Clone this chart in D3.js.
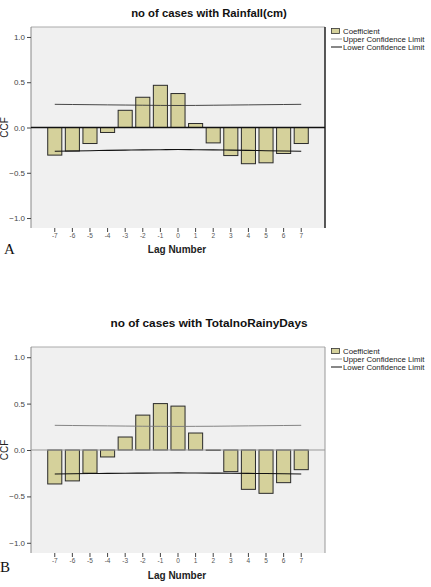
<!DOCTYPE html>
<html>
<head>
<meta charset="utf-8">
<script src="https://cdn.jsdelivr.net/npm/d3@7"></script>
<style>
  body { margin: 0; background: #fff; }
  svg { display: block; font-family: "Liberation Sans", Arial, sans-serif; }
</style>
</head>
<body>
<svg id="chart" width="431" height="587"></svg>
<script>
// lags shown on the x axis
var lags = [-7, -6, -5, -4, -3, -2, -1, 0, 1, 2, 3, 4, 5, 6, 7];
var yTicks = [1.0, 0.5, 0.0, -0.5, -1.0];
var legendLabels = ["Coefficient", "Upper Confidence Limit", "Lower Confidence Limit"];

// panel A : rainfall
var rainfallCcf   = [-0.305, -0.26, -0.177, -0.055, 0.19, 0.334, 0.466, 0.375, 0.044, -0.17, -0.31, -0.40, -0.39, -0.287, -0.177];
var rainfallUpper = [0.256, 0.254, 0.252, 0.250, 0.248, 0.246, 0.244, 0.243, 0.244, 0.246, 0.248, 0.250, 0.252, 0.254, 0.256];
var rainfallLower = [-0.262, -0.259, -0.256, -0.253, -0.250, -0.247, -0.245, -0.243, -0.245, -0.247, -0.250, -0.253, -0.256, -0.259, -0.262];

// panel B : total no. of rainy days
var rainyDaysCcf   = [-0.366, -0.333, -0.25, -0.075, 0.14, 0.376, 0.50, 0.473, 0.183, -0.004, -0.233, -0.424, -0.467, -0.352, -0.212];
var rainyDaysUpper = [0.266, 0.264, 0.262, 0.260, 0.258, 0.256, 0.255, 0.254, 0.255, 0.256, 0.258, 0.260, 0.262, 0.264, 0.266];
var rainyDaysLower = [-0.258, -0.256, -0.254, -0.252, -0.250, -0.249, -0.248, -0.247, -0.248, -0.249, -0.250, -0.252, -0.254, -0.256, -0.258];

var svg = d3.select("#chart");

/*
  one SPSS style ccf panel
*/
function drawPanel(opt) {
  var left = 31, right = 325, top = opt.top, bottom = opt.bottom;
  var g = svg.append("g");

  var x = d3.scaleBand().domain(lags).range([left, right])
      .paddingInner(0.2).paddingOuter(0.95);
  var y = d3.scaleLinear().domain([-1.11, 1.11]).range([bottom, top]);

  // title
  g.append("text")
    .attr("x", 209).attr("y", opt.titleY)
    .attr("text-anchor", "middle")
    .style("font-size", opt.titleSize).style("font-weight", "bold")
    .attr("fill", "#111")
    .text(opt.title);

  // plot background
  g.append("rect")
    .attr("x", left).attr("y", top)
    .attr("width", right - left).attr("height", bottom - top)
    .attr("fill", "#f0f0f0");

  // frame : top, left, right
  g.append("line").attr("x1", left).attr("x2", right).attr("y1", top).attr("y2", top)
    .attr("stroke", "#aaa").attr("stroke-width", 1);
  g.append("line").attr("x1", left).attr("x2", left).attr("y1", top).attr("y2", bottom)
    .attr("stroke", "#888").attr("stroke-width", 1);
  g.append("line").attr("x1", right).attr("x2", right).attr("y1", top).attr("y2", bottom)
    .attr("stroke", opt.dark ? "#222" : "#999").attr("stroke-width", opt.dark ? 1.5 : 1);

  // y axis
  var yAxis = d3.axisLeft(y).tickValues(yTicks).tickSize(4).tickPadding(2)
      .tickFormat(d3.format(".1f"));
  var ya = g.append("g").attr("transform", "translate(" + left + ",0)").call(yAxis);
  ya.select(".domain").remove();
  ya.selectAll("line").attr("stroke", "#444");
  ya.selectAll("text").style("font-size", "8px").attr("fill", "#444")
    .style("font-family", "'Liberation Sans', Arial, sans-serif");

  g.append("text")
    .attr("transform", "translate(8," + y(0) + ") rotate(-90)")
    .attr("text-anchor", "middle")
    .style("font-size", "10px").attr("fill", "#222")
    .text("CCF");

  // x axis
  var xAxis = d3.axisBottom(x).tickSize(4).tickPadding(1);
  var xa = g.append("g").attr("transform", "translate(0," + bottom + ")").call(xAxis);
  xa.select(".domain").remove();
  xa.selectAll("line").attr("stroke", "#444");
  xa.selectAll("text").style("font-size", "6.5px").attr("fill", "#555")
    .style("font-family", "'Liberation Sans', Arial, sans-serif");

  g.append("text")
    .attr("x", 177).attr("y", bottom + opt.lagDy)
    .attr("text-anchor", "middle")
    .style("font-size", "10px").style("font-weight", "bold")
    .attr("fill", "#222")
    .text("Lag Number");

  // bars
  g.selectAll("rect.bar")
    .data(lags.map(function(l, i) { return { lag: l, v: opt.ccf[i] }; }))
    .enter().append("rect")
    .attr("class", "bar")
    .attr("x", function(d) { return x(d.lag); })
    .attr("width", x.bandwidth())
    .attr("y", function(d) { return y(Math.max(0, d.v)); })
    .attr("height", function(d) { return Math.abs(y(d.v) - y(0)); })
    .attr("fill", "#d5d19b")
    .attr("stroke", "#2a2a2a").attr("stroke-width", 1);

  // zero line
  g.append("line")
    .attr("x1", left).attr("x2", right).attr("y1", y(0)).attr("y2", y(0))
    .attr("stroke", opt.dark ? "#111" : "#999")
    .attr("stroke-width", opt.dark ? 1.4 : 1);

  // confidence limits
  var line = d3.line()
    .x(function(d) { return x(d.lag) + x.bandwidth() / 2; })
    .y(function(d) { return y(d.v); })
    .curve(d3.curveMonotoneX);

  g.append("path")
    .datum(lags.map(function(l, i) { return { lag: l, v: opt.upper[i] }; }))
    .attr("d", line).attr("fill", "none")
    .attr("stroke", opt.dark ? "#333" : "#777").attr("stroke-width", 0.9);

  g.append("path")
    .datum(lags.map(function(l, i) { return { lag: l, v: opt.lower[i] }; }))
    .attr("d", line).attr("fill", "none")
    .attr("stroke", "#111").attr("stroke-width", 1.1);

  // legend
  var lg = g.append("g").attr("transform", "translate(331," + (top + 4) + ")");
  lg.append("rect").attr("x", 0.5).attr("y", -2.5).attr("width", 8).attr("height", 5)
    .attr("fill", "#d5d19b").attr("stroke", "#333").attr("stroke-width", 0.8);
  lg.append("line").attr("x1", 0).attr("x2", 11).attr("y1", 8).attr("y2", 8)
    .attr("stroke", "#777").attr("stroke-width", 0.8);
  lg.append("line").attr("x1", 0).attr("x2", 11).attr("y1", 16).attr("y2", 16)
    .attr("stroke", "#111").attr("stroke-width", 1);
  lg.selectAll("text.lab")
    .data(legendLabels)
    .enter().append("text")
    .attr("x", 12)
    .attr("y", function(d, i) { return i * 8 + 2.5; })
    .style("font-size", "7.8px").attr("fill", "#222")
    .text(function(d) { return d; });

  // panel letter
  g.append("text")
    .attr("x", opt.letterX).attr("y", opt.letterY)
    .style("font-family", "'Liberation Serif', 'Times New Roman', serif")
    .style("font-size", "15px").attr("fill", "#111")
    .text(opt.letter);
}

drawPanel({
  title: "no of cases with Rainfall(cm)",
  titleY: 17, top: 27, bottom: 228, titleSize: "11.3px",
  ccf: rainfallCcf, upper: rainfallUpper, lower: rainfallLower,
  dark: true, lagDy: 25, letter: "A", letterX: 4, letterY: 254
});

drawPanel({
  title: "no of cases with TotalnoRainyDays",
  titleY: 327, top: 347, bottom: 553, titleSize: "11.8px",
  ccf: rainyDaysCcf, upper: rainyDaysUpper, lower: rainyDaysLower,
  dark: false, lagDy: 26, letter: "B", letterX: 0, letterY: 572
});
</script>
</body>
</html>
